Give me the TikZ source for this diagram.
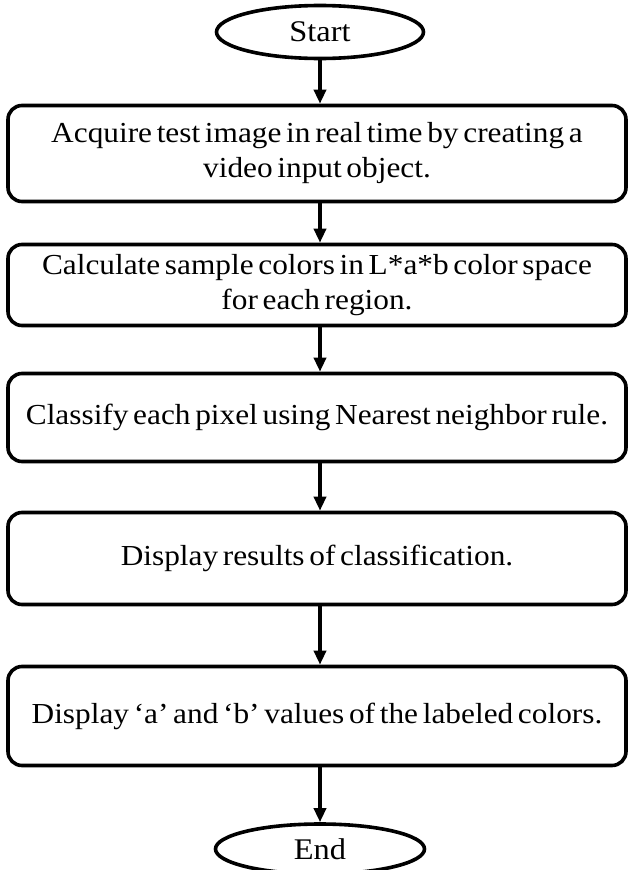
\documentclass[tikz,border=0pt]{standalone}
\usepackage{fontspec}
\setmainfont[FakeStretch=1.08,WordSpace=0.6]{Liberation Serif}
\usetikzlibrary{shapes.geometric,arrows.meta}
\begin{document}
\begin{tikzpicture}[x=1pt,y=1pt,
  every node/.style={font=\fontsize{29}{35}\selectfont},
  procbox/.style={draw, line width=3.6pt, rounded corners=14pt, minimum width=618pt, inner sep=0pt, align=center},
  terminal/.style={draw, ellipse, line width=3.6pt, inner sep=0pt, font=\fontsize{30}{32}\selectfont},
  flow/.style={line width=3.4pt, -{Triangle[width=12pt,length=14pt]}}]
\useasboundingbox (0,0) rectangle (627,-870);
\node[terminal, minimum width=207pt, minimum height=53pt] (start) at (320,-32) {Start};
\node[procbox, minimum height=96pt] (acq) at (317,-153.5) {Acquire test image in real time by creating a\\video input object.};
\node[procbox, minimum height=81pt] (calc) at (317,-285) {Calculate sample colors in L*a*b color space\\for each region.};
\node[procbox, minimum height=88pt] (cls) at (317,-417.5) {Classify each pixel using Nearest neighbor rule.};
\node[procbox, minimum height=92pt] (disp) at (317,-558.5) {Display results of classification.};
\node[procbox, minimum height=99pt] (ab) at (317,-716) {Display ‘a’ and ‘b’ values of the labeled colors.};
\node[terminal, minimum width=209pt, minimum height=50pt] (end) at (320,-849) {End};
\draw[flow] (start.south) -- (start.south |- acq.north);
\draw[flow] (acq.south -| start.south) -- (start.south |- calc.north);
\draw[flow] (calc.south -| start.south) -- (start.south |- cls.north);
\draw[flow] (cls.south -| start.south) -- (start.south |- disp.north);
\draw[flow] (disp.south -| start.south) -- (start.south |- ab.north);
\draw[flow] (ab.south -| start.south) -- (end.north);
\end{tikzpicture}
\end{document}
